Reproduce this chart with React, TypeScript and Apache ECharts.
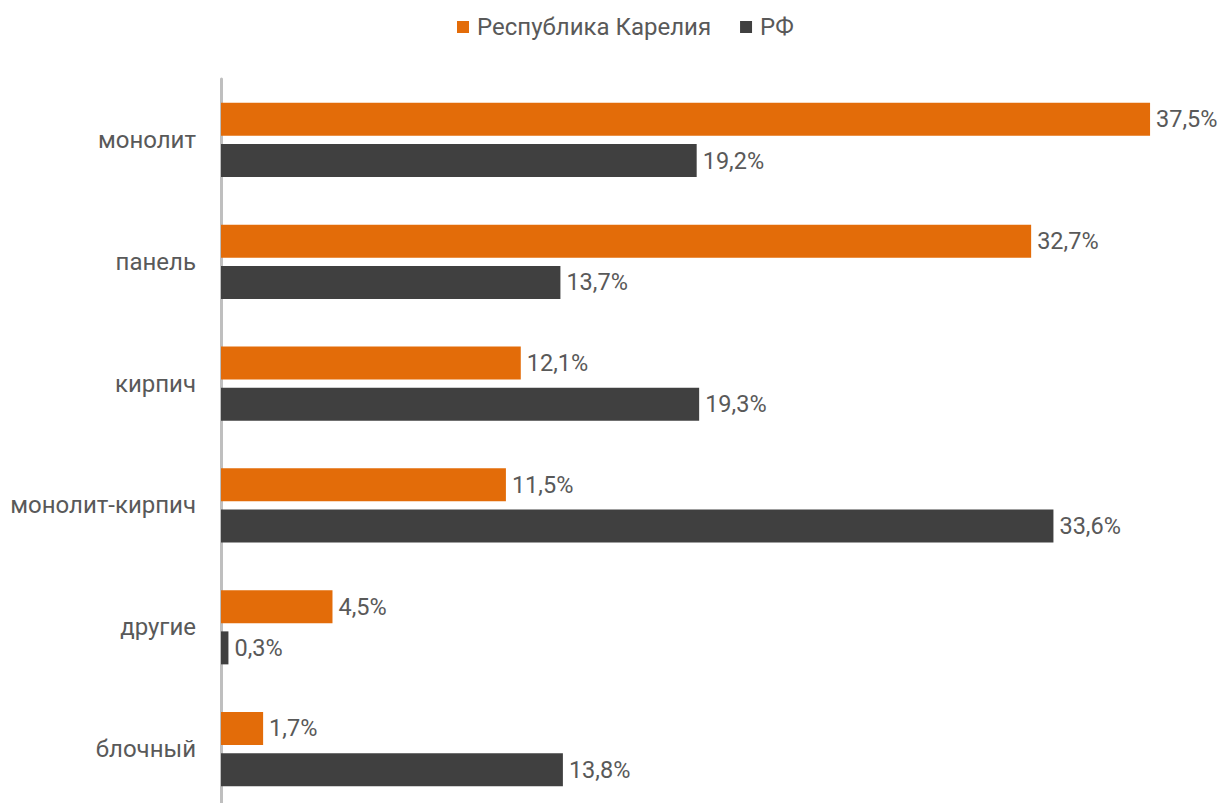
import React, { useEffect, useRef } from "react";
import * as echarts from "echarts";

const categories = ["монолит", "панель", "кирпич", "монолит-кирпич", "другие", "блочный"];
const kareliaValues = [37.5, 32.7, 12.1, 11.5, 4.5, 1.7];
const rfValues = [19.2, 13.7, 19.3, 33.6, 0.3, 13.8];
const seriesNames = ["Республика Карелия", "РФ"];

const fmt = (v: number) => v.toFixed(1).replace(".", ",") + "%";

export default function App() {
  const ref = useRef<HTMLDivElement>(null);
  useEffect(() => {
    if (!ref.current) return;
    const chart = echarts.init(ref.current, null, { renderer: "svg" });
    const labelStyle = {
      show: true,
      position: "right" as const,
      distance: 6,
      color: "#595959",
      fontFamily: "Roboto",
      fontSize: 23.5,
      formatter: (p: any) => fmt(p.value),
    };
    chart.setOption({
      animation: false,
      textStyle: { fontFamily: "Roboto" },
      legend: {
        top: 10,
        left: 452,
        itemWidth: 12,
        itemHeight: 12,
        itemGap: 29,
        icon: "rect",
        textStyle: { color: "#595959", fontSize: 24, fontFamily: "Roboto", padding: [0, 0, 0, 3] },
        data: seriesNames,
      },
      grid: { left: 221, right: 7, top: 79, height: 731 },
      xAxis: {
        type: "value",
        min: 0,
        max: 40,
        show: false,
      },
      yAxis: {
        type: "category",
        data: categories,
        inverse: true,
        axisLine: { show: true, lineStyle: { color: "#BFBFBF", width: 3 } },
        axisTick: { show: false },
        axisLabel: { color: "#595959", fontSize: 24, fontFamily: "Roboto", margin: 25 },
        splitLine: { show: false },
      },
      series: [
        {
          name: seriesNames[0],
          type: "bar",
          data: kareliaValues,
          barWidth: 33,
          barGap: "25%",
          itemStyle: { color: "#E36C09" },
          label: labelStyle,
        },
        {
          name: seriesNames[1],
          type: "bar",
          data: rfValues,
          barWidth: 33,
          barGap: "25%",
          itemStyle: { color: "#404040" },
          label: labelStyle,
        },
      ],
    });
    return () => chart.dispose();
  }, []);
  return (
    <div style={{ position: "fixed", left: 0, top: 0, width: 1219, height: 803, overflow: "hidden", background: "#fff" }}>
      <div ref={ref} style={{ width: 1219, height: 840 }} />
    </div>
  );
}
